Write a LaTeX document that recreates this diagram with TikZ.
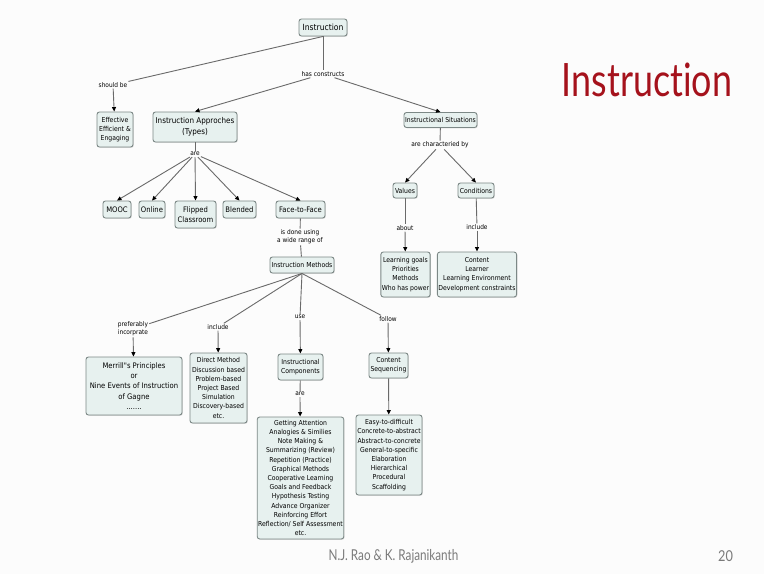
\documentclass[tikz,border=0pt]{standalone}
\usepackage{fontspec}
\usetikzlibrary{arrows.meta,shadows}
\newfontfamily\mapfont{DejaVu Sans Condensed}
\newfontfamily\titlefont[Ligatures=NoCommon]{Lato}
\definecolor{bg}{HTML}{FCFCFC}
\definecolor{boxfill}{HTML}{E7F1EF}
\definecolor{boxline}{HTML}{7C8886}
\definecolor{linkgray}{HTML}{6A6A6A}
\definecolor{titlered}{HTML}{A5121C}
\definecolor{footgray}{HTML}{7A7A7A}
\newcommand{\mapsize}{\mapfont\fontsize{6.8}{9.2}\selectfont}
\begin{document}
\begin{tikzpicture}[x=1pt,y=-1pt,
  concept/.style={draw=boxline, fill=boxfill, rounded corners=2.5pt, align=center,
    inner sep=1pt, line width=0.9pt, font=\mapsize,
    drop shadow={shadow xshift=0.8pt, shadow yshift=-0.8pt, opacity=0.25}},
  linkword/.style={align=center, inner sep=1pt, fill=bg,
    font=\mapfont\fontsize{6.5}{8.2}\selectfont},
  link/.style={draw=linkgray, line width=0.9pt},
  arr/.style={link, -{Triangle[length=4.5pt,width=4pt,color=black]}},
  sz/.style 2 args={minimum width=#1pt, minimum height=#2pt}
]
\path[fill=bg] (0,0) rectangle (764,574);

% concepts
\node[concept, sz={48}{17}, font=\mapfont\fontsize{8.5}{10}\selectfont] (instr) at (323,27.5) {Instruction};
\node[concept, sz={36}{35}] (eee) at (115,129.5) {Effective\\Efficient \&\\Engaging};
\node[concept, sz={84}{30}, font=\mapfont\fontsize{8}{10.5}\selectfont] (appr) at (195,127) {Instruction Approches\\(Types)};
\node[concept, sz={73}{15}] (situ) at (440.5,120) {Instructional Situations};

\node[concept, sz={28}{17}, font=\mapfont\fontsize{7.6}{9.6}\selectfont] (mooc) at (117,209.5) {MOOC};
\node[concept, sz={26}{17}, font=\mapfont\fontsize{7.6}{9.6}\selectfont] (online) at (152,209.5) {Online};
\node[concept, sz={41}{27}, font=\mapfont\fontsize{7.6}{9.6}\selectfont] (flip) at (195.5,214.5) {Flipped\\Classroom};
\node[concept, sz={33}{17}, font=\mapfont\fontsize{7.6}{9.6}\selectfont] (blend) at (239.5,209.5) {Blended};
\node[concept, sz={49}{17}, font=\mapfont\fontsize{7.6}{9.6}\selectfont] (f2f) at (300.5,209.5) {Face-to-Face};
\node[concept, sz={64}{16}] (im) at (302,265) {Instruction Methods};

\node[concept, sz={24}{15}] (values) at (405,190.5) {Values};
\node[concept, sz={36}{15}] (cond) at (476,190.5) {Conditions};
\node[concept, sz={47}{45}] (lg) at (405.5,274.5) {Learning goals\\Priorities\\Methods\\Who has power};
\node[concept, sz={78}{45}] (cont) at (477,274.5) {Content\\Learner\\Learning Environment\\Development constraints};

\node[concept, sz={96}{58}, font=\mapfont\fontsize{7.6}{10.2}\selectfont] (merrill) at (134,386) {Merrill"s Principles\\or\\Nine Events of Instruction\\of Gagne\\.......};
\node[concept, sz={57}{70}] (direct) at (218.5,388) {Direct Method\\Discussion based\\Problem-based\\Project Based\\Simulation\\Discovery-based\\etc.};
\node[concept, sz={45}{26}] (icomp) at (300.5,367) {Instructional\\Components};
\node[concept, sz={39}{25}] (cseq) at (388.5,365.5) {Content\\Sequencing};
\node[concept, sz={85}{122}] (ga) at (300.5,478) {Getting Attention\\Analogies \& Similies\\Note Making \&\\Summarizing (Review)\\Repetition (Practice)\\Graphical Methods\\Cooperative Learning\\Goals and Feedback\\Hypothesis Testing\\Advance Organizer\\Reinforcing Effort\\Reflection/ Self Assessment\\etc.};
\node[concept, sz={66}{80}] (easy) at (389,455) {Easy-to-difficult\\Concrete-to-abstract\\Abstract-to-concrete\\General-to-specific\\Elaboration\\Hierarchical\\Procedural\\Scaffolding};

% linking words
\node[linkword] (shouldbe) at (113,85) {should be};
\node[linkword] (hascons) at (323,74) {has constructs};
\node[linkword] (are1) at (195,154) {are};
\node[linkword] (charby) at (440,145) {are characteried by};
\node[linkword] (about) at (405,228) {about};
\node[linkword] (incl1) at (477,227) {include};
\node[linkword] (isdone) at (300,237) {is done using\\a wide range of};
\node[linkword] (pref) at (133,329) {preferably\\incorprate};
\node[linkword] (incl2) at (218,327) {include};
\node[linkword] (use) at (300,317) {use};
\node[linkword] (follow) at (388,319) {follow};
\node[linkword] (are2) at (300,394) {are};

% links
\draw[link] (instr.south) -- (shouldbe);
\draw[arr] (shouldbe) -- (eee);
\draw[link] (instr) -- (hascons);
\draw[arr] (hascons) -- (appr.north);
\draw[arr] (hascons) -- (situ.north);

\draw[link] (appr) -- (are1);
\foreach \c in {mooc,online,flip,blend,f2f}
  \draw[arr] (are1) -- (\c.north);

\draw[link] (f2f) -- (isdone);
\draw[link] (isdone) -- (im);

\draw[link] (situ) -- (charby);
\draw[arr] (charby) -- (values.north);
\draw[arr] (charby) -- (cond.north);
\draw[link] (values) -- (about);
\draw[arr] (about) -- (lg);
\draw[link] (cond) -- (incl1);
\draw[arr] (incl1) -- (cont);

\draw[link] (im.south) -- (pref);
\draw[link] (im.south) -- (incl2);
\draw[link] (im.south) -- (use);
\draw[link] (im.south) -- (follow);
\draw[arr] (pref) -- (merrill);
\draw[arr] (incl2) -- (direct);
\draw[arr] (use) -- (icomp);
\draw[arr] (follow) -- (cseq);
\draw[link] (icomp) -- (are2);
\draw[arr] (are2) -- (ga);
\draw[arr] (cseq) -- (easy);

% slide title and footer
\node[text=titlered, font=\titlefont\fontsize{46}{46}\selectfont, inner sep=0pt] (title) at (647,80) {\scalebox{0.78}[1]{Instruction}};
\node[text=footgray, font=\titlefont\fontsize{15}{15}\selectfont, inner sep=0pt] (authors) at (393.5,556) {\scalebox{0.78}[1]{N.J. Rao \& K. Rajanikanth}};
\node[text=footgray, font=\titlefont\fontsize{15}{15}\selectfont, inner sep=0pt] (page) at (725.5,556) {\scalebox{0.85}[1]{20}};
\end{tikzpicture}
\end{document}
